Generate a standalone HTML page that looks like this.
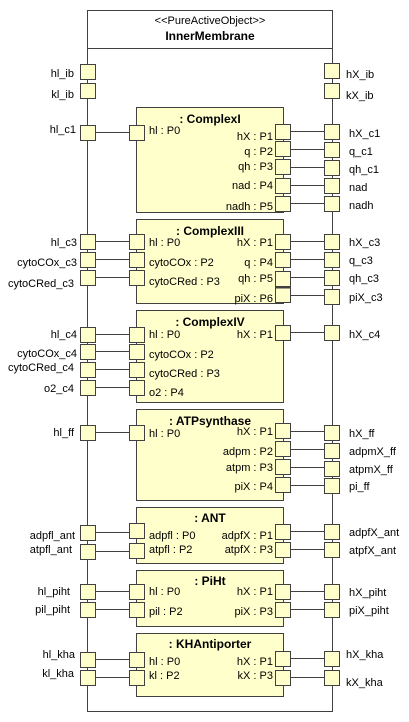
<!DOCTYPE html>
<html><head><meta charset="utf-8"><style>
html,body{margin:0;padding:0;background:#fff;}
svg{display:block;}
text{font-family:"Liberation Sans",Arial,sans-serif;font-size:11px;fill:#000;}
.b{font-weight:bold;font-size:12px;}
.r{text-anchor:end;}
.c{text-anchor:middle;}
.p{fill:#ffffcc;stroke:#404040;stroke-width:1;}
.bx{fill:#ffffcc;stroke:#404040;stroke-width:1;}
.l{stroke:#404040;stroke-width:1;fill:none;}
</style></head><body>
<svg width="409" height="722" viewBox="0 0 409 722" xmlns="http://www.w3.org/2000/svg">
<rect x="87.5" y="10.5" width="245" height="701" fill="#fff" stroke="#404040"/>
<line class="l" x1="87.5" y1="48.5" x2="332.5" y2="48.5"/>
<text class="c" x="210" y="24">&lt;&lt;PureActiveObject&gt;&gt;</text>
<text class="c b" x="210" y="40">InnerMembrane</text>

<!-- inner boxes -->
<rect class="bx" x="136.5" y="107.5" width="147" height="105"/>
<rect class="bx" x="136.5" y="219.5" width="147" height="84"/>
<rect class="bx" x="136.5" y="310.5" width="147" height="92"/>
<rect class="bx" x="136.5" y="409.5" width="147" height="91"/>
<rect class="bx" x="136.5" y="507.5" width="147" height="56"/>
<rect class="bx" x="136.5" y="570.5" width="147" height="56"/>
<rect class="bx" x="136.5" y="633.5" width="147" height="63"/>
<text class="c b" x="210" y="123">: ComplexI</text>
<text class="c b" x="210" y="235">: ComplexIII</text>
<text class="c b" x="210" y="326">: ComplexIV</text>
<text class="c b" x="210" y="425">: ATPsynthase</text>
<text class="c b" x="210" y="522">: ANT</text>
<text class="c b" x="210" y="585">: PiHt</text>
<text class="c b" x="210" y="648">: KHAntiporter</text>

<!-- connector lines left -->
<g class="l">
<line x1="95" y1="132.5" x2="130" y2="132.5"/>
<line x1="95" y1="241.5" x2="130" y2="241.5"/>
<line x1="95" y1="259.5" x2="130" y2="259.5"/>
<line x1="95" y1="277.5" x2="130" y2="277.5"/>
<line x1="95" y1="334.5" x2="130" y2="334.5"/>
<line x1="95" y1="351.5" x2="130" y2="351.5"/>
<line x1="95" y1="369.5" x2="130" y2="369.5"/>
<line x1="95" y1="387.5" x2="130" y2="387.5"/>
<line x1="95" y1="432.5" x2="130" y2="432.5"/>
<line x1="95" y1="532.5" x2="130" y2="532.5"/>
<line x1="95" y1="551.5" x2="130" y2="551.5"/>
<line x1="95" y1="591.5" x2="130" y2="591.5"/>
<line x1="95" y1="609.5" x2="130" y2="609.5"/>
<line x1="95" y1="659.5" x2="130" y2="659.5"/>
<line x1="95" y1="677.5" x2="130" y2="677.5"/>
<!-- right -->
<line x1="290" y1="131.5" x2="325" y2="131.5"/>
<line x1="290" y1="149.5" x2="325" y2="149.5"/>
<line x1="290" y1="167.5" x2="325" y2="167.5"/>
<line x1="290" y1="185.5" x2="325" y2="185.5"/>
<line x1="290" y1="203.5" x2="325" y2="203.5"/>
<line x1="290" y1="241.5" x2="325" y2="241.5"/>
<line x1="290" y1="259.5" x2="325" y2="259.5"/>
<line x1="290" y1="277.5" x2="325" y2="277.5"/>
<line x1="290" y1="295.5" x2="325" y2="295.5"/>
<line x1="290" y1="332.5" x2="325" y2="332.5"/>
<line x1="290" y1="431.5" x2="325" y2="431.5"/>
<line x1="290" y1="449.5" x2="325" y2="449.5"/>
<line x1="290" y1="467.5" x2="325" y2="467.5"/>
<line x1="290" y1="485.5" x2="325" y2="485.5"/>
<line x1="290" y1="531.5" x2="325" y2="531.5"/>
<line x1="290" y1="549.5" x2="325" y2="549.5"/>
<line x1="290" y1="591.5" x2="325" y2="591.5"/>
<line x1="290" y1="609.5" x2="325" y2="609.5"/>
<line x1="290" y1="658.5" x2="325" y2="658.5"/>
<line x1="290" y1="677.5" x2="325" y2="677.5"/>
</g>

<!-- outer left ports -->
<g class="p">
<rect x="80.5" y="64.5" width="15" height="15"/>
<rect x="80.5" y="83.5" width="15" height="15"/>
<rect x="80.5" y="125.5" width="15" height="15"/>
<rect x="80.5" y="234.5" width="15" height="15"/>
<rect x="80.5" y="252.5" width="15" height="15"/>
<rect x="80.5" y="270.5" width="15" height="15"/>
<rect x="80.5" y="327.5" width="15" height="15"/>
<rect x="80.5" y="344.5" width="15" height="15"/>
<rect x="80.5" y="362.5" width="15" height="15"/>
<rect x="80.5" y="380.5" width="15" height="15"/>
<rect x="80.5" y="425.5" width="15" height="15"/>
<rect x="80.5" y="525.5" width="15" height="15"/>
<rect x="80.5" y="544.5" width="15" height="15"/>
<rect x="80.5" y="584.5" width="15" height="15"/>
<rect x="80.5" y="602.5" width="15" height="15"/>
<rect x="80.5" y="652.5" width="15" height="15"/>
<rect x="80.5" y="670.5" width="15" height="15"/>
</g>
<!-- outer right ports -->
<g class="p">
<rect x="324.5" y="63.5" width="15" height="15"/>
<rect x="324.5" y="83.5" width="15" height="15"/>
<rect x="324.5" y="124.5" width="15" height="15"/>
<rect x="324.5" y="142.5" width="15" height="15"/>
<rect x="324.5" y="160.5" width="15" height="15"/>
<rect x="324.5" y="178.5" width="15" height="15"/>
<rect x="324.5" y="196.5" width="15" height="15"/>
<rect x="324.5" y="234.5" width="15" height="15"/>
<rect x="324.5" y="252.5" width="15" height="15"/>
<rect x="324.5" y="270.5" width="15" height="15"/>
<rect x="324.5" y="289.5" width="15" height="15"/>
<rect x="324.5" y="325.5" width="15" height="15"/>
<rect x="324.5" y="425.5" width="15" height="15"/>
<rect x="324.5" y="443.5" width="15" height="15"/>
<rect x="324.5" y="461.5" width="15" height="15"/>
<rect x="324.5" y="478.5" width="15" height="15"/>
<rect x="324.5" y="524.5" width="15" height="15"/>
<rect x="324.5" y="542.5" width="15" height="15"/>
<rect x="324.5" y="584.5" width="15" height="15"/>
<rect x="324.5" y="602.5" width="15" height="15"/>
<rect x="324.5" y="651.5" width="15" height="15"/>
<rect x="324.5" y="670.5" width="15" height="15"/>
</g>
<!-- inner left ports -->
<g class="p">
<rect x="129.5" y="125.5" width="15" height="15"/>
<rect x="129.5" y="234.5" width="15" height="15"/>
<rect x="129.5" y="252.5" width="15" height="15"/>
<rect x="129.5" y="270.5" width="15" height="15"/>
<rect x="129.5" y="327.5" width="15" height="15"/>
<rect x="129.5" y="344.5" width="15" height="15"/>
<rect x="129.5" y="362.5" width="15" height="15"/>
<rect x="129.5" y="380.5" width="15" height="15"/>
<rect x="129.5" y="425.5" width="15" height="15"/>
<rect x="129.5" y="523.5" width="15" height="15"/>
<rect x="129.5" y="543.5" width="15" height="15"/>
<rect x="129.5" y="584.5" width="15" height="15"/>
<rect x="129.5" y="602.5" width="15" height="15"/>
<rect x="129.5" y="652.5" width="15" height="15"/>
<rect x="129.5" y="670.5" width="15" height="15"/>
</g>
<!-- inner right ports -->
<g class="p">
<rect x="275.5" y="124.5" width="15" height="15"/>
<rect x="275.5" y="141.5" width="15" height="15"/>
<rect x="275.5" y="159.5" width="15" height="15"/>
<rect x="275.5" y="178.5" width="15" height="15"/>
<rect x="275.5" y="196.5" width="15" height="15"/>
<rect x="275.5" y="234.5" width="15" height="15"/>
<rect x="275.5" y="252.5" width="15" height="15"/>
<rect x="275.5" y="271.5" width="15" height="15"/>
<rect x="275.5" y="287.5" width="15" height="15"/>
<rect x="275.5" y="325.5" width="15" height="15"/>
<rect x="275.5" y="423.5" width="15" height="15"/>
<rect x="275.5" y="441.5" width="15" height="15"/>
<rect x="275.5" y="459.5" width="15" height="15"/>
<rect x="275.5" y="477.5" width="15" height="15"/>
<rect x="275.5" y="524.5" width="15" height="15"/>
<rect x="275.5" y="542.5" width="15" height="15"/>
<rect x="275.5" y="584.5" width="15" height="15"/>
<rect x="275.5" y="602.5" width="15" height="15"/>
<rect x="275.5" y="651.5" width="15" height="15"/>
<rect x="275.5" y="670.5" width="15" height="15"/>
</g>
<line x1="275" y1="287.5" x2="291" y2="287.5" stroke="#404040" stroke-width="2"/>

<!-- outer left labels -->
<g class="r">
<text x="74" y="77">hl_ib</text>
<text x="74" y="98">kl_ib</text>
<text x="76" y="133">hl_c1</text>
<text x="77" y="246">hl_c3</text>
<text x="77" y="266">cytoCOx_c3</text>
<text x="74" y="287">cytoCRed_c3</text>
<text x="77" y="338">hl_c4</text>
<text x="77" y="357">cytoCOx_c4</text>
<text x="74" y="371">cytoCRed_c4</text>
<text x="74" y="392">o2_c4</text>
<text x="74" y="436">hl_ff</text>
<text x="75" y="539">adpfl_ant</text>
<text x="72" y="553">atpfl_ant</text>
<text x="70" y="595">hl_piht</text>
<text x="70" y="613">pil_piht</text>
<text x="75" y="658">hl_kha</text>
<text x="74" y="677">kl_kha</text>
</g>
<!-- outer right labels -->
<g>
<text x="346" y="78">hX_ib</text>
<text x="346" y="99">kX_ib</text>
<text x="349" y="137">hX_c1</text>
<text x="349" y="155">q_c1</text>
<text x="349" y="173">qh_c1</text>
<text x="349" y="191">nad</text>
<text x="349" y="209">nadh</text>
<text x="349" y="246">hX_c3</text>
<text x="349" y="264">q_c3</text>
<text x="349" y="282">qh_c3</text>
<text x="349" y="301">piX_c3</text>
<text x="349" y="338">hX_c4</text>
<text x="349" y="437">hX_ff</text>
<text x="349" y="455">adpmX_ff</text>
<text x="349" y="473">atpmX_ff</text>
<text x="349" y="490">pi_ff</text>
<text x="349" y="536">adpfX_ant</text>
<text x="349" y="554">atpfX_ant</text>
<text x="349" y="596">hX_piht</text>
<text x="349" y="614">piX_piht</text>
<text x="346" y="658">hX_kha</text>
<text x="346" y="686">kX_kha</text>
</g>
<!-- inner left labels -->
<g>
<text x="149" y="134">hl : P0</text>
<text x="149" y="246">hl : P0</text>
<text x="149" y="266">cytoCOx : P2</text>
<text x="149" y="285">cytoCRed : P3</text>
<text x="149" y="338">hl : P0</text>
<text x="149" y="358">cytoCOx : P2</text>
<text x="149" y="377">cytoCRed : P3</text>
<text x="149" y="396">o2 : P4</text>
<text x="149" y="437">hl : P0</text>
<text x="149" y="539">adpfl : P0</text>
<text x="149" y="553">atpfl : P2</text>
<text x="149" y="595">hl : P0</text>
<text x="149" y="615">pil : P2</text>
<text x="149" y="665">hl : P0</text>
<text x="149" y="679">kl : P2</text>
</g>
<!-- inner right labels -->
<g class="r">
<text x="273" y="140">hX : P1</text>
<text x="273" y="155">q : P2</text>
<text x="273" y="170">qh : P3</text>
<text x="273" y="189">nad : P4</text>
<text x="273" y="210">nadh : P5</text>
<text x="273" y="246">hX : P1</text>
<text x="273" y="266">q : P4</text>
<text x="273" y="282">qh : P5</text>
<text x="273" y="302">piX : P6</text>
<text x="273" y="338">hX : P1</text>
<text x="273" y="435">hX : P1</text>
<text x="273" y="455">adpm : P2</text>
<text x="273" y="471">atpm : P3</text>
<text x="273" y="490">piX : P4</text>
<text x="273" y="539">adpfX : P1</text>
<text x="273" y="553">atpfX : P3</text>
<text x="273" y="595">hX : P1</text>
<text x="273" y="615">piX : P3</text>
<text x="273" y="665">hX : P1</text>
<text x="273" y="679">kX : P3</text>
</g>
</svg>
</body></html>
